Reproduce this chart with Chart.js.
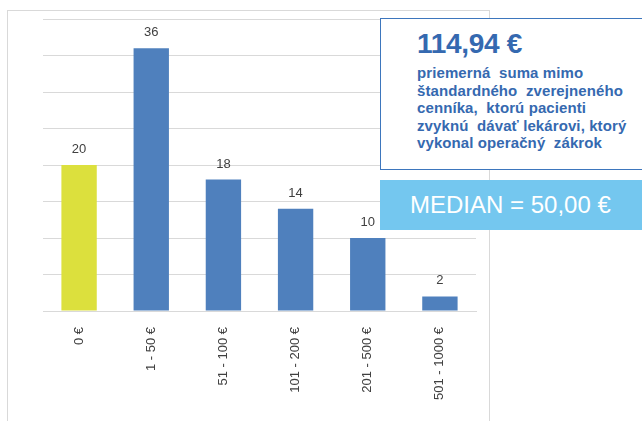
<!DOCTYPE html>
<html>
<head>
<meta charset="utf-8">
<script src="https://cdn.jsdelivr.net/npm/chart.js@4.4.0/dist/chart.umd.min.js"></script>
<style>
  html, body { margin: 0; padding: 0; background: #fff; }
  #wrap { position: relative; width: 642px; height: 421px; overflow: hidden; }
  #frame { position: absolute; left: 7px; top: 10px; width: 483px; height: 430px; border: 1px solid #d9d9d9; box-sizing: border-box; }
  #info { position: absolute; left: 380px; top: 18px; width: 270px; height: 152px; border: 1.5px solid #3d76bd; background: #fff; box-sizing: border-box; color: #3569b0; font-family: "Liberation Sans", Arial, sans-serif; }
  #info .big { position: absolute; left: 36px; top: 9px; font-size: 28px; font-weight: bold; letter-spacing: -0.3px; }
  #info .txt { position: absolute; left: 36px; top: 45px; font-size: 15px; font-weight: bold; line-height: 17.5px; white-space: pre; letter-spacing: 0.1px; }
  #median { position: absolute; left: 380px; top: 180px; width: 270px; height: 50px; background: #74c7ef; color: #fff; font-family: "Liberation Sans", Arial, sans-serif; font-size: 24px; line-height: 50px; padding-left: 30px; box-sizing: border-box; }
  canvas { position: absolute; left: 0; top: 0; }
</style>
</head>
<body>
<div id="wrap">
  <div id="frame"></div>
  <canvas id="myCanvas" width="642" height="421"></canvas>
  <div id="info">
    <div class="big">114,94 €</div>
    <div class="txt">priemerná  suma mimo
štandardného  zverejneného
cenníka,  ktorú pacienti
zvyknú  dávať lekárovi, ktorý
vykonal operačný  zákrok</div>
  </div>
  <div id="median">MEDIAN = 50,00 €</div>
</div>
<script>
var categories = ["0 €", "1 - 50 €", "51 - 100 €", "101 - 200 €", "201 - 500 €", "501 - 1000 €"];
var counts = [20, 36, 18, 14, 10, 2];
var barColors = ["#dce03d", "#4f80bd", "#4f80bd", "#4f80bd", "#4f80bd", "#4f80bd"];

var valueLabels = {
	id: "valueLabels",
	afterDatasetsDraw: function(chart){
		var ctx = chart.ctx;
		var meta = chart.getDatasetMeta(0);
		ctx.save();
		ctx.fillStyle = "#404040";
		ctx.font = "13px 'Liberation Sans', Arial, sans-serif";
		ctx.textAlign = "center";
		ctx.textBaseline = "bottom";
		meta.data.forEach(function(bar, i){
			ctx.fillText(counts[i], bar.x, bar.y - 9);
		});
		ctx.restore();
	}
};

var ctx = document.getElementById("myCanvas");
var chart = new Chart(ctx, {
	type: "bar",
	data: {
		labels: categories,
		datasets: [{
			data: counts,
			backgroundColor: barColors,
			borderWidth: 0,
			barPercentage: 0.49,
			categoryPercentage: 1
		}]
	},
	options: {
		responsive: false,
		animation: false,
		layout: { padding: { left: 43, right: 166, top: 19, bottom: 0 } },
		plugins: { legend: { display: false }, tooltip: { enabled: false } },
		scales: {
			x: {
				grid: { display: false },
				border: { display: true, color: "#d9d9d9", width: 1 },
				ticks: {
					minRotation: 90, maxRotation: 90, padding: 8,
					color: "#404040",
					font: { family: "'Liberation Sans', Arial, sans-serif", size: 13 }
				},
				afterFit: function(s){ s.height = 110; }
			},
			y: {
				min: 0, max: 40,
				ticks: { stepSize: 5, display: false },
				grid: { color: "#d9d9d9", drawTicks: false },
				border: { display: false }
			}
		}
	},
	plugins: [valueLabels]
});
</script>
</body>
</html>
